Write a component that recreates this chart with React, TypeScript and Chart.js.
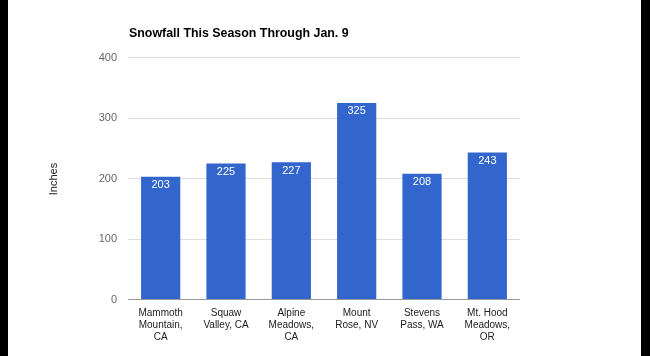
import React, { useEffect, useRef } from "react";
import { Chart, registerables } from "chart.js";

Chart.register(...registerables);

const categories: string[][] = [
  ["Mammoth", "Mountain,", "CA"],
  ["Squaw", "Valley, CA"],
  ["Alpine", "Meadows,", "CA"],
  ["Mount", "Rose, NV"],
  ["Stevens", "Pass, WA"],
  ["Mt. Hood", "Meadows,", "OR"],
];
const snowfall: number[] = [203, 225, 227, 325, 208, 243];
const yTicks: number[] = [0, 100, 200, 300, 400];
const chartTitle = "Snowfall This Season Through Jan. 9";
const yTitle = "Inches";

const FONT = "Arial, 'Liberation Sans', sans-serif";

export default function App() {
  const ref = useRef<HTMLCanvasElement | null>(null);

  useEffect(() => {
    document.body.style.margin = "0";
    const canvas = ref.current!;
    const overlay = {
      id: "overlay",
      afterDatasetsDraw(chart: any) {
        const ctx = chart.ctx;
        const meta = chart.getDatasetMeta(0);
        ctx.save();
        ctx.fillStyle = "#ffffff";
        ctx.font = `11px ${FONT}`;
        ctx.textAlign = "center";
        ctx.textBaseline = "middle";
        meta.data.forEach((bar: any, i: number) => {
          ctx.fillText(String(snowfall[i]), bar.x, bar.y + 8.5);
        });
        ctx.restore();
      },
      afterDraw(chart: any) {
        const ctx = chart.ctx;
        ctx.save();
        ctx.fillStyle = "#000000";
        ctx.font = `bold 12.4px ${FONT}`;
        ctx.textAlign = "left";
        ctx.textBaseline = "middle";
        ctx.fillText(chartTitle, 129, 34);
        ctx.translate(54, 179);
        ctx.rotate(-Math.PI / 2);
        ctx.fillStyle = "#222222";
        ctx.font = `11px ${FONT}`;
        ctx.textAlign = "center";
        ctx.fillText(yTitle, 0, 0);
        ctx.restore();
      },
    };
    const chart = new Chart(canvas, {
      type: "bar",
      data: {
        labels: categories as any,
        datasets: [
          {
            data: snowfall,
            backgroundColor: "#3366cc",
            borderWidth: 0,
            categoryPercentage: 1,
            barPercentage: 0.6,
          },
        ],
      },
      options: {
        animation: false,
        responsive: false,
        layout: { padding: { top: 57.5, right: 130, bottom: 0, left: 0 } },
        plugins: { legend: { display: false }, title: { display: false }, tooltip: { enabled: false } },
        scales: {
          x: {
            grid: { display: false, drawTicks: false },
            border: { display: false },
            ticks: {
              color: "#222222",
              font: { family: FONT, size: 10, lineHeight: 1.2 },
              padding: 8,
              maxRotation: 0,
              autoSkip: false,
            },
            afterFit(scale: any) {
              scale.height = 56.5;
            },
          },
          y: {
            min: 0,
            max: 400,
            afterBuildTicks(scale: any) {
              scale.ticks = yTicks.map((v) => ({ value: v }));
            },
            grid: {
              drawTicks: false,
              color: (c: any) => (c.tick && c.tick.value === 0 ? "#999999" : "#dddddd"),
              lineWidth: 1,
            },
            border: { display: false },
            ticks: {
              color: "#666666",
              font: { family: FONT, size: 11 },
              padding: 11,
            },
            afterFit(scale: any) {
              scale.width = 128;
            },
          },
        },
      },
      plugins: [overlay],
    });
    return () => chart.destroy();
  }, []);

  return (
    <div style={{ position: "relative", width: 650, height: 356, background: "#ffffff" }}>
      <canvas ref={ref} width={650} height={356} style={{ display: "block" }} />
      <div style={{ position: "absolute", left: 0, top: 0, width: 8, height: 356, background: "#000" }} />
      <div style={{ position: "absolute", left: 641, top: 0, width: 9, height: 356, background: "#000" }} />
    </div>
  );
}
